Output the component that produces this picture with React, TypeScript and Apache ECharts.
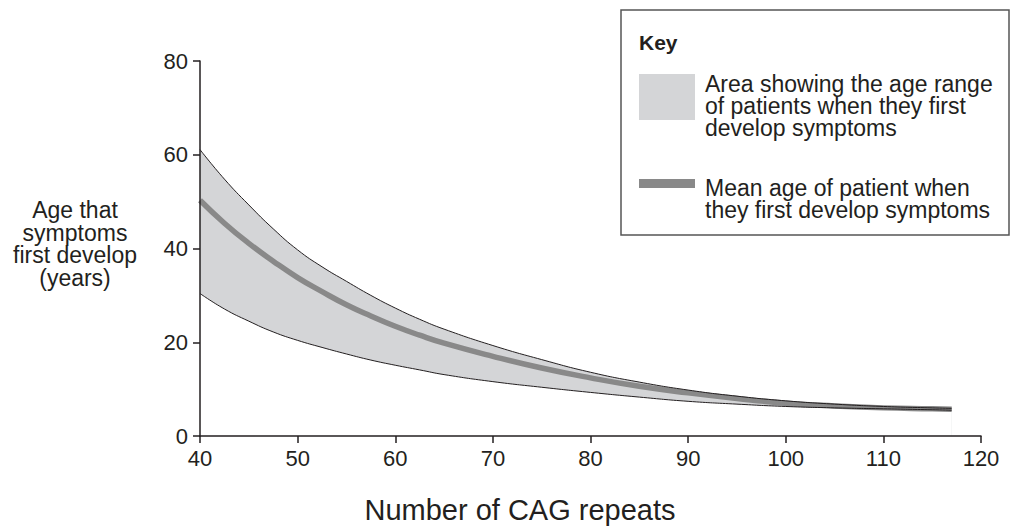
import React, { useEffect, useRef } from "react";
import * as echarts from "echarts";

const cagRepeats = [40, 42.5, 45, 47.5, 50, 52.5, 55, 57.5, 60, 62.5, 65, 70, 75, 80, 85, 90, 95, 100, 105, 110, 115, 117];
const upperAge = [61.1, 54.8, 49.3, 44.2, 39.7, 36.1, 33.0, 30.0, 27.3, 24.9, 22.8, 19.3, 16.3, 13.6, 11.5, 9.8, 8.5, 7.5, 6.8, 6.3, 6.0, 5.9];
const meanAge = [50.3, 45.4, 41.1, 37.3, 33.8, 30.8, 28.0, 25.6, 23.4, 21.5, 19.8, 17.0, 14.5, 12.4, 10.6, 9.2, 8.0, 7.0, 6.4, 6.0, 5.8, 5.7];
const lowerAge = [30.4, 27.1, 24.5, 22.2, 20.4, 18.9, 17.5, 16.2, 15.1, 14.1, 13.1, 11.6, 10.4, 9.3, 8.3, 7.4, 6.8, 6.3, 6.0, 5.8, 5.6, 5.5];

const xTicks = [40, 50, 60, 70, 80, 90, 100, 110, 120];
const yTicks = [0, 20, 40, 60, 80];

const xTitle = "Number of CAG repeats";
const yTitleLines = ["Age that", "symptoms", "first develop", "(years)"];
const keyTitle = "Key";
const keyAreaLines = ["Area showing the age range", "of patients when they first", "develop symptoms"];
const keyMeanLines = ["Mean age of patient when", "they first develop symptoms"];

const FONT = "'Liberation Sans', Arial, sans-serif";
const INK = "#231f20";
const BAND = "#d4d5d7";
const MEAN = "#898989";

export default function App() {
  const ref = useRef<HTMLDivElement>(null);
  useEffect(() => {
    document.body.style.margin = "0";
    if (!ref.current) return;
    const chart = echarts.init(ref.current, null, { renderer: "svg" });
    const pairs = (ys: number[]) => cagRepeats.map((x, i) => [x, ys[i]]);
    const axisCommon = {
      z: 10,
      axisLine: { show: true, onZero: false, lineStyle: { color: INK, width: 1.5 } },
      axisTick: { show: true, length: 7, inside: false, lineStyle: { color: INK, width: 1.5 } },
      splitLine: { show: false },
    };
    chart.setOption({
      animation: false,
      backgroundColor: "#ffffff",
      textStyle: { fontFamily: FONT },
      grid: { left: 200, right: 30, top: 61, bottom: 93, containLabel: false },
      xAxis: {
        ...axisCommon,
        type: "value",
        min: xTicks[0],
        max: xTicks[xTicks.length - 1],
        interval: 10,
        axisLabel: { fontSize: 22, color: INK, margin: 11, fontFamily: FONT },
      },
      yAxis: {
        ...axisCommon,
        type: "value",
        min: yTicks[0],
        max: yTicks[yTicks.length - 1],
        interval: 20,
        axisLabel: { fontSize: 22, color: INK, margin: 12, fontFamily: FONT },
      },
      series: [
        {
          name: "rangeTop",
          type: "line",
          data: pairs(upperAge),
          smooth: true,
          symbol: "none",
          lineStyle: { opacity: 0 },
          areaStyle: { color: BAND, opacity: 1 },
          silent: true,
          z: 1,
        },
        {
          name: "rangeBottomMask",
          type: "line",
          data: pairs(lowerAge),
          smooth: true,
          symbol: "none",
          lineStyle: { opacity: 0 },
          areaStyle: { color: "#ffffff", opacity: 1 },
          silent: true,
          z: 1,
        },
        {
          name: "mean",
          type: "line",
          data: pairs(meanAge),
          smooth: true,
          symbol: "none",
          lineStyle: { color: MEAN, width: 5.5, cap: "butt" },
          z: 2,
        },
        {
          name: "upper",
          type: "line",
          data: pairs(upperAge),
          smooth: true,
          symbol: "none",
          lineStyle: { color: INK, width: 1 },
          z: 3,
        },
        {
          name: "lower",
          type: "line",
          data: pairs(lowerAge),
          smooth: true,
          symbol: "none",
          lineStyle: { color: INK, width: 1 },
          z: 3,
        },
      ],
      graphic: [
        {
          type: "text",
          z: 100,
          x: 520,
          y: 510,
          style: {
            text: xTitle,
            fontSize: 29,
            fill: INK,
            fontFamily: FONT,
            align: "center",
            verticalAlign: "middle",
          },
        },
        {
          type: "text",
          z: 100,
          x: 75,
          y: 244,
          style: {
            text: yTitleLines.join("\n"),
            fontSize: 23,
            lineHeight: 22.5,
            fill: INK,
            fontFamily: FONT,
            align: "center",
            verticalAlign: "middle",
          },
        },
        {
          type: "rect",
          z: 100,
          shape: { x: 621, y: 10, width: 388, height: 225 },
          style: { fill: "#ffffff", stroke: "#555555", lineWidth: 1.5 },
        },
        {
          type: "text",
          z: 101,
          x: 639,
          y: 42,
          style: {
            text: keyTitle,
            fontSize: 21,
            fontWeight: "bold",
            fill: INK,
            fontFamily: FONT,
            verticalAlign: "middle",
          },
        },
        {
          type: "rect",
          z: 101,
          shape: { x: 639, y: 74, width: 56, height: 46 },
          style: { fill: BAND },
        },
        {
          type: "text",
          z: 101,
          x: 705,
          y: 106,
          style: {
            text: keyAreaLines.join("\n"),
            fontSize: 23,
            lineHeight: 21.7,
            fill: INK,
            fontFamily: FONT,
            verticalAlign: "middle",
          },
        },
        {
          type: "rect",
          z: 101,
          shape: { x: 639, y: 179, width: 56, height: 9 },
          style: { fill: MEAN },
        },
        {
          type: "text",
          z: 101,
          x: 705,
          y: 198.5,
          style: {
            text: keyMeanLines.join("\n"),
            fontSize: 23,
            lineHeight: 22,
            fill: INK,
            fontFamily: FONT,
            verticalAlign: "middle",
          },
        },
      ],
    });
    return () => chart.dispose();
  }, []);
  return <div ref={ref} style={{ width: 1011, height: 529 }} />;
}
